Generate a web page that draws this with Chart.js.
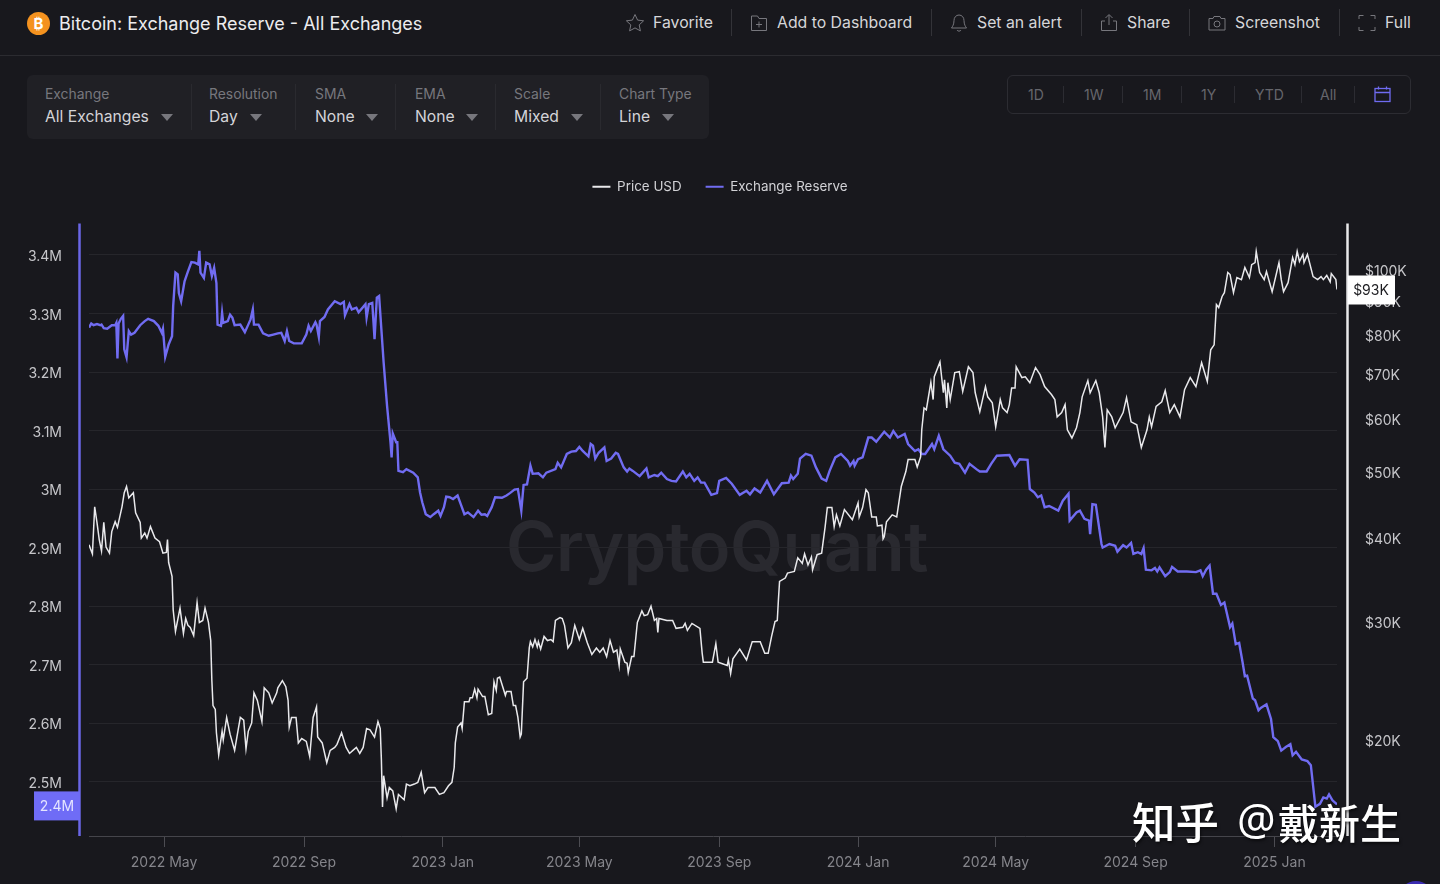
<!DOCTYPE html>
<html>
<head>
<meta charset="utf-8">
<title>Bitcoin: Exchange Reserve - All Exchanges</title>
<script src="https://cdn.jsdelivr.net/npm/chart.js@4"></script>
<style>
    html, body { margin: 0; padding: 0; background: #18181d; }
    body { position: relative; width: 1440px; height: 884px; overflow: hidden; font-family: Inter, "Noto Sans", sans-serif; }
    .abs { position: absolute; white-space: nowrap; }
    .headerLine { position: absolute; left: 0; top: 55px; width: 1440px; height: 1px; background: #2b2b30; }
    .title { left: 59px; top: 12px; font-size: 18px; line-height: 23px; color: #ececee; }
    .coin { left: 27px; top: 12px; width: 23px; height: 23px; border-radius: 50%; background: #f4921f; color: #fff; font-size: 15px; font-weight: 700; line-height: 23px; text-align: center; }
    .action { top: 13px; font-size: 15.8px; line-height: 20px; color: #d6d6d9; }
    .sep { position: absolute; top: 9px; width: 1px; height: 27px; background: #333338; }
    .icon { position: absolute; top: 13px; }
    .panel { left: 27px; top: 75px; width: 682px; height: 64px; background: #202025; border-radius: 6px; }
    .filterLabel { top: 86px; font-size: 13.900px; line-height: 17px; color: #77777d; }
    .filterValue { top: 107px; font-size: 15.700px; line-height: 20px; color: #d4d4d8; }
    .caret { position: absolute; top: 114px; width: 0; height: 0; border-left: 6px solid transparent; border-right: 6px solid transparent; border-top: 7px solid #77777d; }
    .filterSep { position: absolute; top: 84px; width: 1px; height: 46px; background: #2a2a2f; }
    .range { left: 1007px; top: 75px; width: 402px; height: 37px; border: 1px solid #2c2c32; border-radius: 6px; }
    .rangeItem { top: 86px; font-size: 14px; line-height: 17px; color: #66666c; }
    .rangeSep { position: absolute; top: 86px; width: 1px; height: 17px; background: #2c2c32; }
    .mark { left: 506px; top: 499px; font-size: 68.500px; line-height: 96px; font-weight: 600; color: #29292f; letter-spacing: -0.5px; }
    #chartBox { position: absolute; left: 0; top: 156px; width: 1440px; height: 728px; }
    .zhihu { top: 792px; font-family: "Noto Sans CJK SC", sans-serif; font-size: 43.500px; line-height: 58px; font-weight: 500; color: #fff; text-shadow: 1px 2px 3px rgba(0,0,0,.55); }
    .helpDot { left: 1399px; top: 881px; width: 34px; height: 34px; border-radius: 50%; background: #3a2bb0; }
</style>
</head>
<body>
<div class="abs coin">₿</div>
<div class="abs title">Bitcoin: Exchange Reserve - All Exchanges</div>
<div class="headerLine"></div>

<svg class="icon" style="left:625px" width="20" height="20" viewBox="0 0 20 20" fill="none" stroke="#77777d"><path d="M10 1.5l2.6 5.6 6 .7-4.4 4.1 1.2 6-5.4-3-5.4 3 1.2-6L1.400 7.800l6-.7z"/></svg>
<div class="abs action" style="left:653px">Favorite</div>
<div class="sep" style="left:731px"></div>
<svg class="icon" style="left:750px" width="18" height="20" viewBox="0 0 18 20" fill="none" stroke="#77777d"><path d="M1.500 3h6l1.500 2.500h7.500v12h-15zM9 8.500v6M6 11.500h6"/></svg>
<div class="abs action" style="left:777px">Add to Dashboard</div>
<div class="sep" style="left:931px"></div>
<svg class="icon" style="left:950px" width="18" height="20" viewBox="0 0 18 20" fill="none" stroke="#77777d"><path d="M9 2c-3 0-5 2.500-5 5.500 0 4-1.500 6-2.500 7.500h15c-1-1.500-2.500-3.500-2.500-7.500C14 4.500 12 2 9 2zM7 17c.5 1.500 3.500 1.500 4 0"/></svg>
<div class="abs action" style="left:977px">Set an alert</div>
<div class="sep" style="left:1081px"></div>
<svg class="icon" style="left:1100px" width="18" height="20" viewBox="0 0 18 20" fill="none" stroke="#77777d"><path d="M9 12V2M5.500 5L9 1.500 12.500 5M5 8H1.500v9.500h15V8H13"/></svg>
<div class="abs action" style="left:1127px">Share</div>
<div class="sep" style="left:1189px"></div>
<svg class="icon" style="left:1208px" width="18" height="20" viewBox="0 0 18 20" fill="none" stroke="#77777d"><path d="M1 5.500h4L6 3.500h6l1 2h4v11.500H1z"/><circle cx="9" cy="11" r="3"/></svg>
<div class="abs action" style="left:1235px">Screenshot</div>
<div class="sep" style="left:1339px"></div>
<svg class="icon" style="left:1358px" width="18" height="20" viewBox="0 0 18 20" fill="none" stroke="#77777d"><path d="M1 6V2.500h4.500M12.500 2.500H17V6M17 14v3.500h-4.500M5.500 17.500H1V14"/></svg>
<div class="abs action" style="left:1385px">Full</div>

<div class="abs panel"></div>
<div class="abs filterLabel" style="left:45px">Exchange</div>
<div class="abs filterValue" style="left:45px">All Exchanges</div>
<div class="caret" style="left:161px"></div>
<div class="filterSep" style="left:191px"></div>
<div class="abs filterLabel" style="left:209px">Resolution</div>
<div class="abs filterValue" style="left:209px">Day</div>
<div class="caret" style="left:250px"></div>
<div class="filterSep" style="left:295px"></div>
<div class="abs filterLabel" style="left:315px">SMA</div>
<div class="abs filterValue" style="left:315px">None</div>
<div class="caret" style="left:366px"></div>
<div class="filterSep" style="left:395px"></div>
<div class="abs filterLabel" style="left:415px">EMA</div>
<div class="abs filterValue" style="left:415px">None</div>
<div class="caret" style="left:466px"></div>
<div class="filterSep" style="left:495px"></div>
<div class="abs filterLabel" style="left:514px">Scale</div>
<div class="abs filterValue" style="left:514px">Mixed</div>
<div class="caret" style="left:571px"></div>
<div class="filterSep" style="left:600px"></div>
<div class="abs filterLabel" style="left:619px">Chart Type</div>
<div class="abs filterValue" style="left:619px">Line</div>
<div class="caret" style="left:662px"></div>

<div class="abs range"></div>
<div class="abs rangeItem" style="left:1028px">1D</div>
<div class="rangeSep" style="left:1063px"></div>
<div class="abs rangeItem" style="left:1084px">1W</div>
<div class="rangeSep" style="left:1122px"></div>
<div class="abs rangeItem" style="left:1143px">1M</div>
<div class="rangeSep" style="left:1181px"></div>
<div class="abs rangeItem" style="left:1201px">1Y</div>
<div class="rangeSep" style="left:1234px"></div>
<div class="abs rangeItem" style="left:1255px">YTD</div>
<div class="rangeSep" style="left:1301px"></div>
<div class="abs rangeItem" style="left:1320px">All</div>
<div class="rangeSep" style="left:1354px"></div>
<svg class="abs" style="left:1374px;top:86px" width="17" height="17" viewBox="0 0 17 17" fill="none" stroke="#6f6bf0" stroke-width="1.300"><rect x="1" y="2.500" width="15" height="13"/><path d="M1 6.500h15M4.500 .5v3M12.500 .5v3"/></svg>

<div class="abs mark">CryptoQuant</div>
<div id="chartBox"><canvas id="reserveChart"></canvas></div>
<div class="abs zhihu" style="left:1132px">知乎</div>
<div class="abs zhihu" style="left:1237px;font-family:'Noto Sans';font-size:43px;font-weight:400;top:790px">@</div>
<div class="abs zhihu" style="left:1278px;font-size:41px">戴新生</div>
<div class="abs helpDot"></div>

<script>
// days counted from the first point of the chart (late Feb 2022)
const xTickDays = [66, 189, 311, 431, 554, 676, 797, 920, 1042];
const xTickLabels = ["2022 May", "2022 Sep", "2023 Jan", "2023 May", "2023 Sep", "2024 Jan", "2024 May", "2024 Sep", "2025 Jan"];

// thousand BTC
const reserveTicks = [2500, 2600, 2700, 2800, 2900, 3000, 3100, 3200, 3300, 3400];
// thousand USD
const priceTicks = [20, 30, 40, 50, 60, 70, 80, 90, 100];

const reserveDays = [
    0,2,4,7,10,11,13,16,20,23,
    24,25,26,28,30,31,33,35,37,40,
    45,49,52,57,61,64,65,67,70,73,
    74,76,78,79,81,84,87,90,93,96,
    97,98,101,103,106,108,110,112,113,116,
    117,118,122,124,126,128,133,137,140,142,
    144,145,149,153,158,162,166,169,172,174,
    176,180,187,191,193,195,199,200,202,203,
    207,210,216,221,224,225,229,231,235,237,
    243,244,246,249,251,253,255,257,259,262,
    265,266,267,270,271,272,276,279,285,289,
    291,293,296,300,303,307,309,312,314,317,
    320,324,327,330,333,338,342,345,348,350,
    354,357,363,367,370,374,377,380,382,385,
    388,390,395,399,402,410,412,415,420,424,
    428,431,434,439,441,443,445,448,453,455,
    459,463,465,470,473,475,478,484,490,492,
    497,500,503,508,512,516,522,525,528,532,
    535,538,541,547,552,554,560,565,572,578,
    581,585,590,596,602,609,615,617,619,623,
    625,630,635,639,644,648,651,656,661,667,
    669,672,673,676,680,685,688,692,699,704,
    707,711,717,720,726,729,732,735,741,743,
    747,751,757,761,765,770,774,780,783,789,
    793,798,809,814,818,825,827,831,834,837,
    840,844,852,856,861,862,868,871,875,879,
    880,882,885,890,891,897,902,904,909,912,
    916,918,922,925,927,929,934,937,939,941,
    946,950,952,957,965,973,977,979,982,985,
    988,991,995,998,1003,1005,1008,1011,1014,1016,
    1018,1023,1025,1028,1030,1035,1039,1041,1045,1048,
    1052,1056,1058,1061,1066,1071,1074,1078,1082,1085,
    1088,1090,1093,1097
];
const reserveValues = [
    3276,3283,3280,3282,3280,3281,3275,3274,3280,3280,
    3284,3223,3283,3291,3296,3239,3225,3270,3264,3267,
    3280,3287,3291,3287,3279,3267,3274,3226,3247,3261,
    3313,3370,3367,3335,3321,3355,3372,3388,3387,3384,
    3407,3370,3361,3387,3384,3364,3378,3352,3281,3279,
    3301,3284,3287,3298,3293,3280,3281,3268,3281,3290,
    3307,3281,3281,3266,3262,3264,3266,3267,3253,3270,
    3253,3249,3249,3264,3279,3270,3285,3281,3260,3287,
    3294,3307,3321,3316,3320,3297,3316,3307,3310,3302,
    3316,3293,3316,3318,3256,3327,3330,3273,3216,3142,
    3080,3054,3095,3080,3080,3031,3029,3034,3028,3020,
    2994,2977,2957,2952,2957,2963,2954,2969,2987,2986,
    2983,2989,2973,2957,2960,2952,2963,2956,2957,2954,
    2969,2986,2985,2989,2993,2999,3000,2963,3007,3008,
    3040,3026,3027,3020,3028,3034,3045,3037,3060,3064,
    3065,3072,3065,3056,3077,3074,3052,3062,3071,3048,
    3052,3062,3060,3037,3030,3035,3031,3022,3035,3020,
    3024,3022,3028,3017,3014,3013,3030,3020,3026,3014,
    3020,3011,3011,2990,2993,3014,3019,3009,2990,2997,
    2991,3001,2994,3014,2991,3010,3011,3023,3017,3026,
    3052,3060,3057,3037,3018,3014,3031,3054,3060,3048,
    3040,3048,3040,3051,3054,3088,3088,3081,3098,3088,
    3099,3088,3094,3077,3065,3068,3060,3060,3077,3068,
    3091,3068,3057,3045,3043,3028,3043,3034,3030,3030,
    3043,3057,3058,3040,3051,3050,3000,2994,2986,2989,
    2969,2971,2963,2980,2992,2946,2960,2963,2949,2946,
    2923,2974,2973,2906,2900,2906,2903,2893,2904,2900,
    2908,2889,2892,2889,2899,2862,2861,2865,2859,2866,
    2851,2858,2867,2859,2859,2858,2861,2851,2862,2869,
    2821,2821,2802,2806,2764,2770,2735,2737,2704,2680,
    2681,2642,2639,2622,2626,2632,2607,2576,2569,2553,
    2559,2564,2545,2551,2538,2535,2528,2457,2462,2473,
    2471,2478,2468,2461
];

const priceDays = [
    0,3,5,7,9,11,13,15,18,20,
    23,25,29,31,33,35,39,41,45,46,
    49,51,54,58,62,65,68,69,70,73,
    74,75,76,80,83,85,87,89,92,95,
    97,100,102,105,107,108,109,111,112,114,
    117,118,121,124,128,130,133,136,138,140,
    143,145,148,152,154,158,161,165,166,170,
    173,175,176,178,182,184,187,191,194,197,
    200,201,205,209,212,216,218,222,226,229,
    232,235,238,241,244,247,251,254,256,257,
    258,259,262,264,267,270,272,277,279,282,
    286,289,292,295,298,304,308,312,316,319,
    321,322,324,327,328,330,334,335,337,339,
    341,342,346,348,351,354,356,358,359,361,
    366,367,371,373,375,377,379,380,382,385,
    387,388,390,392,394,395,397,400,403,406,
    408,410,414,416,418,421,424,427,431,434,
    438,442,446,449,452,455,458,461,464,466,
    467,471,473,474,477,479,482,486,488,491,
    494,497,499,500,501,508,513,516,522,524,
    526,530,537,539,540,548,551,553,561,562,
    564,566,572,578,583,590,594,597,600,603,
    605,606,607,612,614,620,623,627,629,632,
    635,636,640,644,647,649,653,655,657,660,
    664,671,676,677,680,683,685,688,692,693,
    697,698,699,701,706,710,714,718,720,726,
    728,731,732,734,736,740,742,743,748,751,
    752,754,755,757,761,765,768,773,777,779,
    783,788,790,794,797,801,803,807,809,811,
    814,815,820,823,827,832,836,840,846,849,
    851,855,858,860,864,868,871,873,878,880,
    885,888,891,893,895,899,902,909,912,916,
    921,925,930,932,934,938,943,946,950,954,
    959,963,968,973,978,983,986,989,991,993,
    996,998,1001,1003,1006,1009,1013,1016,1020,1022,
    1025,1026,1029,1033,1035,1040,1046,1048,1050,1054,
    1058,1060,1062,1064,1067,1068,1071,1076,1080,1083,
    1085,1088,1091,1092,1096,1097
];
const priceValues = [
    39.0,37.8,44.4,42.1,39.7,38.2,42.1,38.7,37.9,40.8,
    42.2,41.4,44.4,46.6,47.6,45.8,46.6,43.5,42.1,39.9,
    40.6,39.9,41.5,39.9,39.4,37.9,38.0,39.7,36.7,35.0,
    31.2,30.1,29.0,31.4,28.8,30.3,29.6,29.4,28.6,32.0,
    29.9,30.1,31.4,29.9,28.1,24.5,22.5,22.2,20.5,19.0,
    20.6,20.0,21.6,20.4,19.3,20.2,21.6,21.4,19.4,20.6,
    21.2,23.5,22.9,21.3,23.9,23.5,22.7,23.5,23.9,24.5,
    24.0,22.9,20.9,21.6,21.6,19.8,20.1,19.9,18.9,21.6,
    22.4,20.2,19.8,18.5,19.3,19.5,19.7,20.5,19.5,19.1,
    19.3,19.5,19.1,19.5,20.8,20.7,20.2,21.3,20.8,18.7,
    15.9,17.7,16.4,17.0,16.8,15.8,16.6,16.3,17.2,17.1,
    17.2,17.3,17.9,16.7,17.0,17.0,16.6,16.7,17.1,17.3,
    18.2,19.8,20.9,21.2,20.8,22.8,22.8,23.1,23.1,23.8,
    23.1,23.8,23.2,23.2,21.8,21.9,24.4,23.7,24.7,24.8,
    23.3,23.6,23.6,22.5,22.5,21.6,20.2,20.4,24.4,24.7,
    27.4,28.0,27.5,28.2,27.5,28.0,27.3,28.5,28.1,28.2,
    28.0,30.1,30.4,30.3,29.6,27.4,27.9,29.6,28.2,29.3,
    27.9,26.8,27.4,27.0,27.4,26.6,28.1,27.0,27.2,25.8,
    27.3,26.1,26.0,25.2,26.6,26.6,29.9,31.1,30.6,30.7,
    31.6,30.1,30.3,28.9,30.3,30.1,30.1,29.3,29.4,29.8,
    29.1,29.8,29.3,26.9,26.1,26.1,27.8,26.1,25.8,26.3,
    25.1,26.4,27.3,26.3,28.0,28.0,26.9,26.9,28.5,30.0,
    30.1,32.3,34.4,34.8,35.4,35.6,37.3,36.6,37.8,36.4,
    37.4,35.8,37.7,37.9,41.4,44.3,44.3,41.5,43.2,41.6,
    44.0,42.5,45.0,42.9,44.3,47.1,46.6,42.9,42.9,41.6,
    41.7,39.8,40.1,42.2,43.2,42.9,47.6,50.1,52.2,52.2,
    50.9,52.7,57.8,62.3,61.9,68.0,64.1,69.3,72.9,65.6,
    68.6,62.3,67.9,64.1,70.3,70.5,65.9,71.7,70.3,65.6,
    61.5,67.0,64.7,63.4,58.4,64.1,62.3,61.3,63.0,66.7,
    66.7,71.7,69.1,69.3,67.9,71.5,69.8,67.0,65.2,64.1,
    60.4,61.3,63.0,57.8,56.2,58.2,61.3,64.7,68.4,65.6,
    68.4,65.6,60.4,54.4,61.9,60.4,58.2,61.3,64.5,59.4,
    58.8,54.4,57.8,60.4,58.4,62.6,63.6,66.1,61.3,63.0,
    60.4,66.3,69.1,67.0,72.7,68.2,76.0,77.3,88.7,87.8,
    91.2,92.4,99.0,98.3,92.4,97.3,96.6,100.7,97.3,101.7,
    102.4,106.4,99.0,96.6,99.3,92.7,102.4,96.6,92.7,95.6,
    104.2,101.7,106.4,102.8,105.3,102.4,105.3,97.6,96.6,97.6,
    96.6,98.0,95.9,98.6,96.6,93.4
];

function toPoints(days, values) {
    return days.map((d, i) => ({ x: d, y: values[i] }));
}

// leaves the gap between the legend and the plot
const legendGap = {
    id: "legendGap",
    beforeInit(chart) {
        const fit = chart.legend.fit;
        chart.legend.fit = function () {
            fit.call(this);
            this.height += 20;
        };
    }
};

// the two thick axis rules and the last-value tags sit outside the plot area
const axisDecor = {
    id: "axisDecor",
    afterDraw(chart) {
        const ctx = chart.ctx;
        const area = chart.chartArea;
        const lastReserve = reserveValues[reserveValues.length - 1];
        const lastPrice = priceValues[priceValues.length - 1];
        const reserveY = chart.scales.reserve.getPixelForValue(lastReserve);
        const priceY = chart.scales.price.getPixelForValue(lastPrice);

        ctx.save();
        ctx.lineWidth = 2.5;
        ctx.strokeStyle = "#6a66e6";
        ctx.beginPath();
        ctx.moveTo(area.left - 9.5, area.top);
        ctx.lineTo(area.left - 9.5, area.bottom);
        ctx.stroke();
        ctx.strokeStyle = "#e8e8ea";
        ctx.beginPath();
        ctx.moveTo(area.right + 10.5, area.top);
        ctx.lineTo(area.right + 10.5, area.bottom);
        ctx.stroke();

        ctx.font = "14px Inter";
        ctx.textBaseline = "middle";
        ctx.textAlign = "center";

        ctx.fillStyle = "#6f6cf6";
        ctx.fillRect(34, reserveY - 13, 46, 29);
        ctx.fillStyle = "#e4e4ff";
        ctx.fillText((Math.floor(lastReserve / 100) / 10) + "M", 57, reserveY + 2);

        ctx.fillStyle = "#ffffff";
        ctx.fillRect(1348, priceY - 14, 47, 29);
        ctx.fillStyle = "#1c1c20";
        ctx.fillText("$" + Math.round(lastPrice) + "K", 1371, priceY + 1);
        ctx.restore();
    }
};

new Chart(document.getElementById("reserveChart"), {
    type: "line",
    plugins: [legendGap, axisDecor],
    data: {
        datasets: [
            {
                label: "Price USD",
                data: toPoints(priceDays, priceValues),
                yAxisID: "price",
                borderColor: "#e9e9ec",
                backgroundColor: "#e9e9ec",
                borderWidth: 1.5,
                pointRadius: 0,
                tension: 0
            },
            {
                label: "Exchange Reserve",
                data: toPoints(reserveDays, reserveValues),
                yAxisID: "reserve",
                borderColor: "#716cf2",
                backgroundColor: "#716cf2",
                borderWidth: 2.4,
                pointRadius: 0,
                tension: 0
            }
        ]
    },
    options: {
        responsive: true,
        maintainAspectRatio: false,
        animation: false,
        plugins: {
            tooltip: { enabled: false },
            legend: {
                position: "top",
                labels: {
                    color: "#d2d2d6",
                    font: { family: "Inter", size: 13.4 },
                    boxWidth: 18,
                    boxHeight: 2,
                    padding: 24,
                    generateLabels: chart =>
                        Chart.defaults.plugins.legend.labels.generateLabels(chart)
                            .map(item => ({ ...item, lineWidth: 0 }))
                }
            }
        },
        scales: {
            x: {
                type: "linear",
                min: 0,
                max: 1097,
                afterFit: scale => { scale.height = 48; },
                afterBuildTicks: scale => { scale.ticks = xTickDays.map(v => ({ value: v })); },
                grid: { drawOnChartArea: false, tickLength: 11, tickColor: "#4c4c52" },
                border: { color: "#45454b" },
                ticks: {
                    color: "#85858b",
                    font: { family: "Inter", size: 14 },
                    padding: 7,
                    maxRotation: 0,
                    autoSkip: false,
                    callback: (value, index) => xTickLabels[index]
                }
            },
            reserve: {
                type: "linear",
                position: "left",
                min: 2407,
                max: 3454,
                afterFit: scale => { scale.width = 89; },
                afterBuildTicks: scale => { scale.ticks = reserveTicks.map(v => ({ value: v })); },
                grid: { color: "#26262b", drawTicks: false },
                border: { display: false },
                ticks: {
                    color: "#c6c6ca",
                    font: { family: "Inter", size: 14 },
                    padding: 27,
                    labelOffset: 2,
                    autoSkip: false,
                    callback: value => (value / 1000) + "M"
                }
            },
            price: {
                type: "logarithmic",
                position: "right",
                min: 14.4,
                max: 117.1,
                afterFit: scale => { scale.width = 103; },
                afterBuildTicks: scale => { scale.ticks = priceTicks.map(v => ({ value: v })); },
                grid: { drawOnChartArea: false, drawTicks: false },
                border: { display: false },
                ticks: {
                    color: "#c6c6ca",
                    font: { family: "Inter", size: 14 },
                    padding: 28,
                    labelOffset: 2,
                    autoSkip: false,
                    callback: value => "$" + value + "K"
                }
            }
        }
    }
});
</script>
</body>
</html>
